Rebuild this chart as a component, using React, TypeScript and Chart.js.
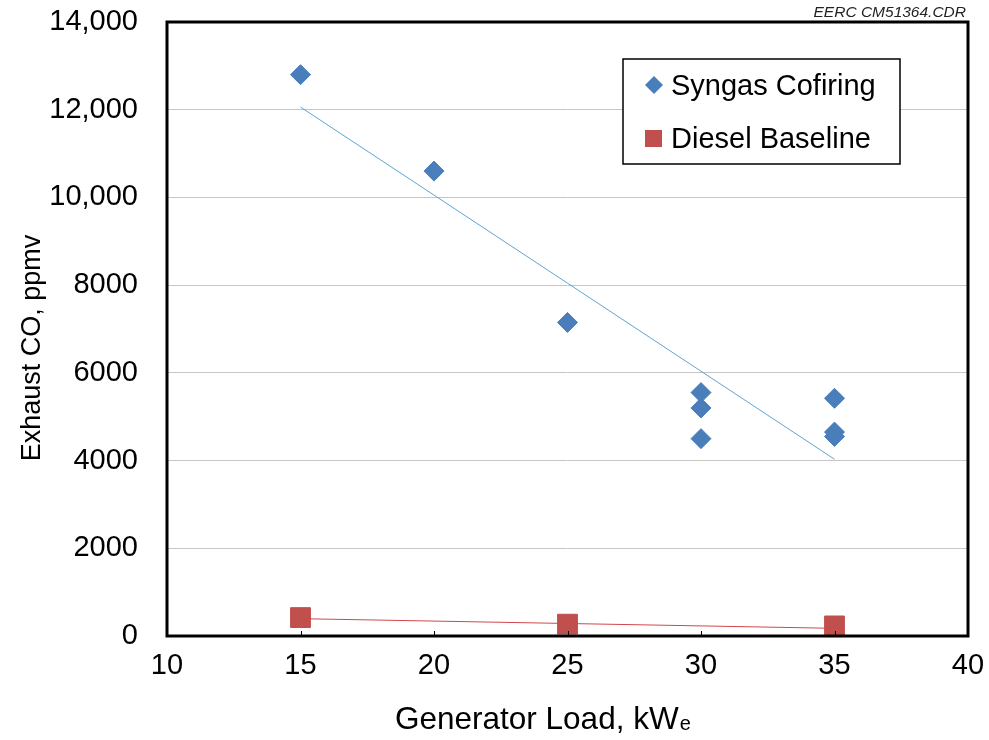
import React, { useEffect, useRef } from "react";
import { Chart, registerables } from "chart.js";

Chart.register(...registerables);

// ---- data ----
const seriesNames = ["Syngas Cofiring", "Diesel Baseline"];
const syngasLoad = [15, 20, 25, 30, 30, 30, 35, 35, 35];
const syngasCO = [12800, 10600, 7150, 5550, 5200, 4500, 5420, 4650, 4550];
const dieselLoad = [15, 25, 35];
const dieselCO = [420, 270, 230];
const syngasTrendLoad = [15, 35];
const syngasTrendCO = [12060, 4030];
const dieselTrendLoad = [15, 35];
const dieselTrendCO = [395, 175];
const yTickValues = [0, 2000, 4000, 6000, 8000, 10000, 12000, 14000];
const yTickLabels = ["0", "2000", "4000", "6000", "8000", "10,000", "12,000", "14,000"];
const xTitleMain = "Generator Load, kW";
const xTitleSub = "e";
const yTitle = "Exhaust CO, ppmv";
const noteText = "EERC CM51364.CDR";

const FONT = "'Liberation Sans', Arial, Helvetica, sans-serif";
const BLUE = "#4a7ebb";
const RED = "#c0504d";
const BLUE_TREND = "#5fa3d3";
const RED_TREND = "#d0474a";

const toPts = (xs: number[], ys: number[]) => xs.map((x, i) => ({ x, y: ys[i] }));

const decorPlugin = {
  id: "decor",
  afterDatasetsDraw(chart: any) {
    const { ctx, chartArea } = chart;
    const { left, right, top, bottom } = chartArea;
    ctx.save();
    const xs = chart.scales.x;
    ctx.strokeStyle = "#000";
    ctx.lineWidth = 1;
    xs.ticks.forEach((t: any) => {
      const px = Math.round(xs.getPixelForValue(t.value)) + 0.5;
      ctx.beginPath();
      ctx.moveTo(px, bottom);
      ctx.lineTo(px, bottom - 5);
      ctx.stroke();
    });
    ctx.lineWidth = 3;
    ctx.strokeRect(left, top, right - left, bottom - top);
    ctx.restore();
  },
  afterDraw(chart: any) {
    const { ctx } = chart;
    ctx.save();
    ctx.fillStyle = "#222";
    ctx.font = `italic 15.5px ${FONT}`;
    ctx.textAlign = "right";
    ctx.textBaseline = "alphabetic";
    ctx.fillText(noteText, 966, 17);

    ctx.fillStyle = "#000";
    ctx.textAlign = "left";
    ctx.font = `31.5px ${FONT}`;
    ctx.fillText(xTitleMain, 395, 729);
    const w = ctx.measureText(xTitleMain).width;
    ctx.font = `20px ${FONT}`;
    ctx.fillText(xTitleSub, 395 + w + 1, 730);

    ctx.save();
    ctx.translate(40, 348);
    ctx.rotate(-Math.PI / 2);
    ctx.textAlign = "center";
    ctx.font = `27px ${FONT}`;
    ctx.fillText(yTitle, 0, 0);
    ctx.restore();

    ctx.fillStyle = "#fff";
    ctx.fillRect(623, 59, 277, 105);
    ctx.strokeStyle = "#000";
    ctx.lineWidth = 1.5;
    ctx.strokeRect(623, 59, 277, 105);
    const ds = chart.data.datasets;
    ctx.fillStyle = ds[0].backgroundColor;
    ctx.beginPath();
    ctx.moveTo(654, 76);
    ctx.lineTo(663, 85);
    ctx.lineTo(654, 94);
    ctx.lineTo(645, 85);
    ctx.closePath();
    ctx.fill();
    ctx.fillStyle = ds[1].backgroundColor;
    ctx.fillRect(645, 130, 17, 17);
    ctx.fillStyle = "#000";
    ctx.font = `29px ${FONT}`;
    ctx.textAlign = "left";
    ctx.textBaseline = "middle";
    ctx.fillText(ds[0].label, 671, 87);
    ctx.fillText(ds[1].label, 671, 140);
    ctx.restore();
  },
};

export default function App() {
  const ref = useRef<HTMLCanvasElement | null>(null);
  useEffect(() => {
    document.body.style.margin = "0";
    if (!ref.current) return;
    const chart = new Chart(ref.current, {
      type: "scatter",
      data: {
        datasets: [
          {
            label: seriesNames[0],
            data: toPts(syngasLoad, syngasCO),
            backgroundColor: BLUE,
            borderColor: BLUE,
            pointStyle: "rectRot",
            pointRadius: 10,
            borderWidth: 1,
            showLine: false,
            order: 2,
          },
          {
            label: seriesNames[1],
            data: toPts(dieselLoad, dieselCO),
            backgroundColor: RED,
            borderColor: RED,
            pointStyle: "rect",
            pointRadius: 14,
            borderWidth: 1,
            showLine: false,
            order: 2,
          },
          {
            label: "Syngas trend",
            data: toPts(syngasTrendLoad, syngasTrendCO),
            borderColor: BLUE_TREND,
            backgroundColor: BLUE_TREND,
            showLine: true,
            borderWidth: 1,
            pointRadius: 0,
            order: 1,
          },
          {
            label: "Diesel trend",
            data: toPts(dieselTrendLoad, dieselTrendCO),
            borderColor: RED_TREND,
            backgroundColor: RED_TREND,
            showLine: true,
            borderWidth: 1,
            pointRadius: 0,
            order: 1,
          },
        ],
      },
      options: {
        responsive: false,
        animation: false,
        events: [],
        layout: { padding: { top: 22, right: 21, left: 0, bottom: 0 } },
        plugins: {
          legend: { display: false },
          tooltip: { enabled: false },
        },
        scales: {
          x: {
            type: "linear",
            min: 10,
            max: 40,
            ticks: {
              stepSize: 5,
              color: "#000",
              font: { family: FONT, size: 29 },
              padding: 0,
            },
            grid: {
              drawOnChartArea: false,
              drawTicks: true,
              tickLength: 13,
              tickColor: "rgba(0,0,0,0)",
              color: "rgba(0,0,0,0)",
            },
            border: { display: false },
            afterFit: (s: any) => {
              s.height = 104;
            },
          },
          y: {
            type: "linear",
            min: 0,
            max: 14000,
            afterBuildTicks: (s: any) => {
              s.ticks = yTickValues.map((v) => ({ value: v }));
            },
            ticks: {
              color: "#000",
              font: { family: FONT, size: 29 },
              padding: 0,
              callback: (v: any) => {
                const i = yTickValues.indexOf(Number(v));
                return i >= 0 ? yTickLabels[i] : "";
              },
            },
            grid: {
              color: "#c6c6c6",
              lineWidth: 1,
              drawTicks: true,
              tickLength: 29,
              tickColor: "rgba(0,0,0,0)",
            },
            border: { display: false },
            afterFit: (s: any) => {
              s.width = 167;
            },
          },
        },
      },
      plugins: [decorPlugin],
    });
    return () => chart.destroy();
  }, []);
  return (
    <div style={{ width: 989, height: 740, background: "#fff" }}>
      <canvas ref={ref} width={989} height={740} style={{ display: "block" }} />
    </div>
  );
}
